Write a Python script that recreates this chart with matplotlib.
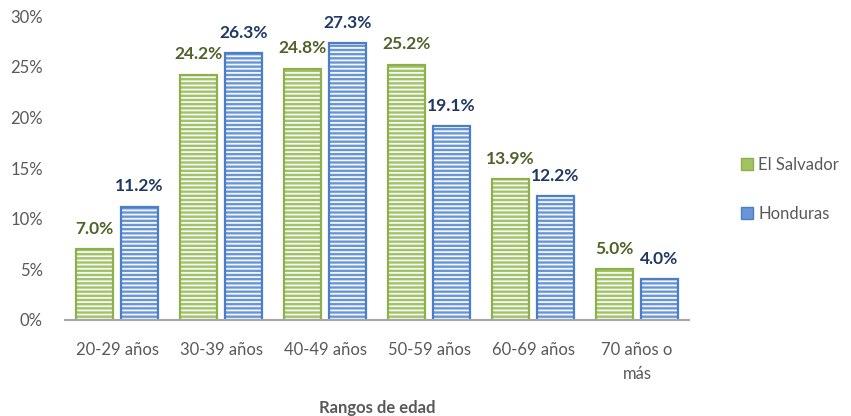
import matplotlib
matplotlib.use("Agg")
import matplotlib.pyplot as plt
from matplotlib.patches import Patch
import numpy as np

categories = ["20-29 años", "30-39 años", "40-49 años", "50-59 años", "60-69 años", "70 años o\nmás"]
el_salvador = [7.0, 24.2, 24.8, 25.2, 13.9, 5.0]
honduras = [11.2, 26.3, 27.3, 19.1, 12.2, 4.0]
yticks = [0, 5, 10, 15, 20, 25, 30]

plt.rcParams['font.family'] = ['Lato', 'DejaVu Sans']
plt.rcParams['hatch.linewidth'] = 1.3

fig = plt.figure(figsize=(8.51, 4.16), dpi=100)
ax = fig.add_axes([65/851, 96/416, 624/851, 304/416])

x = np.arange(len(categories))
w = 0.35
off = 0.215

series = [
    (el_salvador, -off, "#8EB04A", "#A3C263", "#4F6228", "El Salvador"),
    (honduras, off, "#4A7EC6", "#6995D6", "#1F3864", "Honduras"),
]

for vals, dx, edge, face, lab_col, name in series:
    # striped fill: base colour with white horizontal hatching
    ax.bar(x + dx, vals, width=w, color=face, edgecolor="none", zorder=2)
    ax.bar(x + dx, vals, width=w, facecolor="none", edgecolor="#F4F8FC",
           hatch="----", linewidth=0, zorder=3)
    ax.bar(x + dx, vals, width=w, facecolor="none", edgecolor=edge,
           linewidth=1.6, zorder=4)
    for xi, v in zip(x + dx, vals):
        ax.annotate(f"{v:.1f}%", (xi, v), xytext=(0, 9), textcoords="offset points",
                    ha="center", va="bottom", fontsize=12.5, fontweight="bold",
                    color=lab_col)

ax.set_xlim(-0.5, len(categories) - 0.5)
ax.set_ylim(0, 30)
ax.set_yticks(yticks)
ax.set_yticklabels([f"{t}%" for t in yticks])
ax.set_xticks(x)
ax.set_xticklabels(categories, linespacing=1.6)
ax.tick_params(axis="both", length=0, labelsize=12, labelcolor="#595959")
ax.tick_params(axis="y", pad=16)
ax.tick_params(axis="x", pad=16)
for s in ["top", "right", "left"]:
    ax.spines[s].set_visible(False)
ax.spines["bottom"].set_color("#A6A6A6")
ax.spines["bottom"].set_linewidth(1.5)
ax.spines["bottom"].set_zorder(5)

ax.set_xlabel("Rangos de edad", fontsize=12, fontweight="bold", color="#595959", labelpad=13)

handles = [Patch(facecolor=s[3], edgecolor=s[2], label=s[5]) for s in series]
ax.legend(handles=handles, loc="center left", bbox_to_anchor=(1.06, 0.43),
          frameon=False, fontsize=12, handlelength=0.7, handleheight=0.7,
          handletextpad=0.3, labelspacing=2.0, labelcolor="#595959")

fig.savefig("out.png", dpi=100)
